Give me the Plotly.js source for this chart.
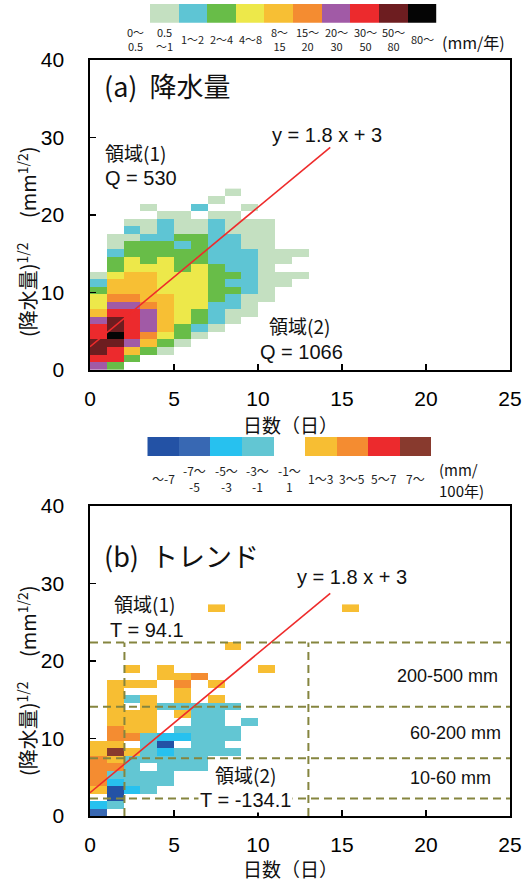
<!DOCTYPE html>
<html>
<head>
<meta charset="utf-8">
<script src="https://cdn.plot.ly/plotly-3.0.1.min.js"></script>
<style>html,body{margin:0;padding:0;background:#fff;}#chart{width:522px;height:881px;}</style>
</head>
<body>
<div id="chart"></div>
<script>
// ================= DATA =================
const xTickVals = [0, 5, 10, 15, 20, 25];
const yTickVals = [0, 10, 20, 30, 40];

// Panel (a) precipitation classes, index 0..10
const precipLabels = ['0～<br>0.5', '0.5<br>～1', '1～2', '2～4', '4～8', '8～<br>15', '15～<br>20', '20～<br>30', '30～<br>50', '50～<br>80', '80～'];
const precipColors = ['#ffffff', '#c4e0c1', '#5ec5d4', '#68bd48', '#ede84a', '#f7bf34', '#f48c31', '#a15aa6', '#ec2a2d', '#6d1d20', '#050505'];
const precipUnit = '(mm/年)';

// Panel (b) trend classes, index 1..9
const trendLabels = ['～-7', '-7～<br>-5', '-5～<br>-3', '-3～<br>-1', '-1～<br>1', '1～3', '3～5', '5～7', '7～'];
const trendColors = ['#2352a5', '#3868b3', '#27c1ef', '#62c6d3', '#ffffff', '#f7be33', '#f48c31', '#ec2a2d', '#883a2e'];
const trendUnitTop = '(mm/';
const trendUnitBottom = '100年)';

// Grid of classes: one string per row (bottom row first), one char per 1-day column.
// panel (a): '1'..'9' = class 1..9, 'X' = class 10, '.' = no data
const precipRows = [
  "73...............",
  "883..............",
  "98531............",
  "997531...........",
  "8X86431..........",
  "89875321.........",
  "798754321........",
  "5887543211.......",
  "4776544221.......",
  "46655443211......",
  "35554443321......",
  "255544432211.....",
  "1455444332111....",
  ".3444343221......",
  ".34343322211.....",
  ".233333222111....",
  ".1333232211......",
  ".1122332211......",
  "..212112111......",
  "..112112111......",
  "....11.11........",
  "...1..2..1.......",
  ".......1.........",
  "........1........"
];
// panel (b): '1'..'9' = trend class, '.' = none
const trendRows = [
  "2................",
  "34...............",
  ".1...............",
  "6134.............",
  "73444............",
  "74444............",
  "774.444..........",
  "7644444..........",
  "696434444........",
  "66.41.44.........",
  ".77433444........",
  ".766.4444........",
  ".666..44.4.......",
  ".666.644.........",
  ".6.644444........",
  ".646.6.6.........",
  ".6...6...........",
  ".666.7.6.........",
  "....667..........",
  "..6.6.....6......",
  ".................",
  ".................",
  "........6........",
  ".................",
  ".................",
  ".................",
  ".................",
  ".......6.......6."
];

const regressionSlope = 1.8;
const regressionIntercept = 3;
const regressionX = [0, 14.3];

const bandLevels = [2.25, 7.45, 14.1, 22.4];   // horizontal dashed lines, panel (b)
const bandDays = [2.05, 13];                   // vertical dashed lines, panel (b)

// ================= BUILD =================
const W = 522, H = 881;
const px = v => v / W;
const py = v => 1 - v / H;
const JP = "'Noto Sans CJK JP', 'Noto Sans', sans-serif";
const LAT = "'Liberation Sans', Arial, sans-serif";
const binHeight = 0.975;

function parseGrid(rows, map) {
  return rows.map(r => r.split('').map(ch => (ch in map ? map[ch] : null)));
}
const precipMap = {'1':1,'2':2,'3':3,'4':4,'5':5,'6':6,'7':7,'8':8,'9':9,'X':10};
const trendMap = {'1':1,'2':2,'3':3,'4':4,'6':6,'7':7,'8':8,'9':9};
const zA = parseGrid(precipRows, precipMap);
const zB = parseGrid(trendRows, trendMap);

function edges(n, step) { return Array.from({length: n + 1}, (_, i) => i * step); }
function discreteScale(colors) {
  const n = colors.length, s = [];
  colors.forEach((c, i) => { s.push([i / n, c]); s.push([(i + 1) / n, c]); });
  return s;
}
const precipScale = discreteScale(precipColors);   // classes 0..10
const trendScale = discreteScale(trendColors);     // classes 1..9

const lineY = regressionX.map(x => regressionSlope * x + regressionIntercept);

const traces = [
  {type: 'heatmap', x: edges(precipRows[0].length, 1), y: edges(precipRows.length, binHeight), z: zA,
   zmin: -0.5, zmax: 10.5, colorscale: precipScale, showscale: false, hoverinfo: 'skip', xaxis: 'x', yaxis: 'y'},
  {type: 'scatter', mode: 'lines', x: regressionX, y: lineY, line: {color: '#ee2b2b', width: 1.6},
   hoverinfo: 'skip', xaxis: 'x', yaxis: 'y'},
  {type: 'heatmap', x: edges(trendRows[0].length, 1), y: edges(trendRows.length, binHeight), z: zB,
   zmin: 0.5, zmax: 9.5, colorscale: trendScale, showscale: false, hoverinfo: 'skip', xaxis: 'x2', yaxis: 'y2'},
  {type: 'scatter', mode: 'lines', x: regressionX, y: lineY, line: {color: '#ee2b2b', width: 1.6},
   hoverinfo: 'skip', xaxis: 'x2', yaxis: 'y2'},
  {type: 'heatmap', x: precipLabels.map((_, i) => i), y: [0], z: [precipLabels.map((_, i) => i)],
   zmin: -0.5, zmax: 10.5, colorscale: precipScale, showscale: false, hoverinfo: 'skip', xaxis: 'x3', yaxis: 'y3'},
  {type: 'heatmap', x: trendLabels.map((_, i) => i + 1), y: [0], z: [trendLabels.map((_, i) => i + 1)],
   zmin: 0.5, zmax: 9.5, colorscale: trendScale, showscale: false, hoverinfo: 'skip', xaxis: 'x4', yaxis: 'y4'}
];

const plotX0 = 90, plotX1 = 510;
function mainX(anchor) {
  return {domain: [px(plotX0), px(plotX1)], anchor: anchor, range: [0, 25], tickvals: xTickVals,
    ticks: 'inside', ticklen: 6, tickwidth: 1.2, tickcolor: '#000', showline: true, linecolor: '#000',
    linewidth: 1.6, mirror: true, showgrid: false, zeroline: false, fixedrange: true,
    ticklabeloverflow: 'allow',
    tickfont: {family: LAT, size: 21, color: '#000'}, ticklabelstandoff: 9};
}
function mainY(anchor, top, bottom) {
  return {domain: [py(bottom), py(top)], anchor: anchor, range: [0, 40], tickvals: yTickVals,
    ticks: 'inside', ticklen: 6, tickwidth: 1.2, tickcolor: '#000', showline: true, linecolor: '#000',
    linewidth: 1.6, mirror: true, showgrid: false, zeroline: false, fixedrange: true,
    ticklabeloverflow: 'allow',
    tickfont: {family: LAT, size: 21, color: '#000'}, ticklabelstandoff: 20};
}
const hidden = (dom, anchor, range) => ({domain: dom, anchor: anchor, range: range, visible: false, fixedrange: true});

const shapes = [];
bandLevels.forEach(v => shapes.push({type: 'line', xref: 'x2', yref: 'y2', x0: 0, x1: 25, y0: v, y1: v,
  line: {color: '#85853f', width: 2, dash: '8px,5px'}, layer: 'above'}));
bandDays.forEach(d => shapes.push({type: 'line', xref: 'x2', yref: 'y2', x0: d, x1: d, y0: 0, y1: bandLevels[3],
  line: {color: '#85853f', width: 2, dash: '8px,5px'}, layer: 'above'}));

const ann = [];
function txt(text, x, y, size, opts) {
  ann.push(Object.assign({text: text, xref: 'paper', yref: 'paper', x: px(x), y: py(y), showarrow: false,
    xanchor: 'left', yanchor: 'middle', font: {family: JP, size: size, color: '#111'}}, opts || {}));
}
// legend labels
precipLabels.forEach((t, i) => ann.push({text: t, xref: 'x3', yref: 'paper', x: i, y: py(39), showarrow: false,
  xanchor: 'center', yanchor: 'middle', font: {family: JP, size: 11, color: '#222'}}));
txt(precipUnit, 440, 42, 16);
trendLabels.forEach((t, i) => ann.push({text: t, xref: 'x4', yref: 'paper', x: i + 1, y: py(478), showarrow: false,
  xanchor: 'center', yanchor: 'middle', font: {family: JP, size: 12, color: '#222'}}));
txt(trendUnitTop, 437, 469, 15);
txt(trendUnitBottom, 437, 491, 15);

// panel (a)
txt('(a)\u00a0 降水量', 102, 86, 27);
txt('y = 1.8 x + 3', 270, 135, 20, {font: {family: LAT, size: 20, color: '#111'}});
txt('領域(1)', 103, 152, 19);
txt('Q = 530', 103, 178, 20, {font: {family: LAT, size: 20, color: '#111'}});
txt('領域(2)', 267, 326, 19);
txt('Q = 1066', 258, 352, 20, {font: {family: LAT, size: 20, color: '#111'}});
txt('日数（日）', 290, 424, 19, {xanchor: 'center'});
txt('(降水量)<sup>1/2</sup>　 (mm<sup>1/2</sup>)', 27, 242, 20, {xanchor: 'center', textangle: -90});

// panel (b)
txt('(b)\u00a0 トレンド', 102, 555, 27);
txt('y = 1.8 x + 3', 295, 577, 20, {font: {family: LAT, size: 20, color: '#111'}});
txt('領域(1)', 112, 603, 19);
txt('T = 94.1', 108, 630, 20, {font: {family: LAT, size: 20, color: '#111'}});
txt('200-500 mm', 395, 676, 18, {font: {family: LAT, size: 18, color: '#111'}});
txt('60-200 mm', 408, 733, 18, {font: {family: LAT, size: 18, color: '#111'}});
txt('10-60 mm', 408, 778, 18, {font: {family: LAT, size: 18, color: '#111'}});
txt('領域(2)', 213, 774, 19);
txt('T = -134.1', 198, 800, 20, {font: {family: LAT, size: 20, color: '#111'}, bgcolor: '#ffffff'});
txt('日数（日）', 290, 868, 19, {xanchor: 'center'});
txt('(降水量)<sup>1/2</sup>　 (mm<sup>1/2</sup>)', 27, 681, 20, {xanchor: 'center', textangle: -90});

const layout = {
  width: W, height: H, margin: {l: 0, r: 0, t: 0, b: 0}, paper_bgcolor: '#fff', plot_bgcolor: '#fff',
  showlegend: false,
  xaxis: mainX('y'), yaxis: mainY('x', 60, 370),
  xaxis2: mainX('y2'), yaxis2: mainY('x2', 506, 816),
  xaxis3: hidden([px(121.3), px(436.7)], 'y3', [-0.5, 10.5]),
  yaxis3: hidden([py(22.7), py(4)], 'x3', [-0.5, 0.5]),
  xaxis4: hidden([px(147.3), px(431)], 'y4', [0.5, 9.5]),
  yaxis4: hidden([py(456), py(437)], 'x4', [-0.5, 0.5]),
  shapes: shapes, annotations: ann
};

Plotly.newPlot('chart', traces, layout, {staticPlot: true, displayModeBar: false});
</script>
</body>
</html>
